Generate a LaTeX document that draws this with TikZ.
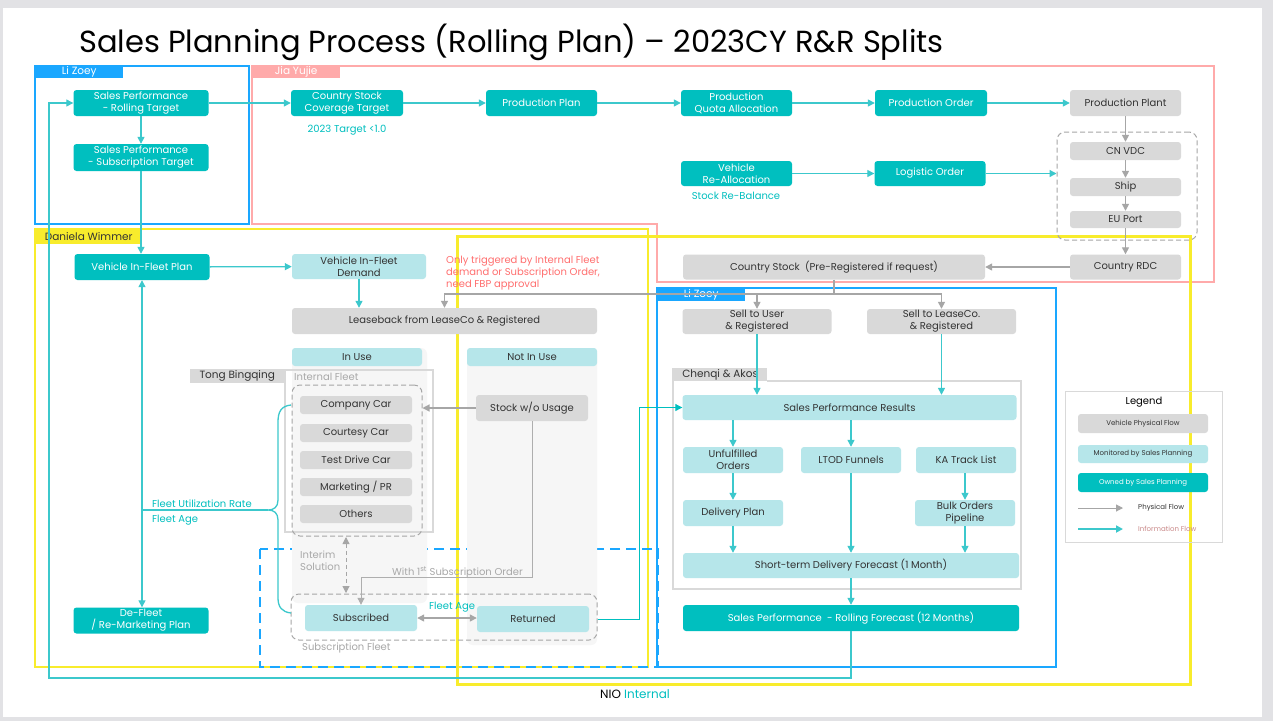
\documentclass[tikz,border=0pt]{standalone}
\usepackage{fontspec}
\setmainfont{Poppins}
\usetikzlibrary{arrows.meta,positioning,calc}
\definecolor{Own}{HTML}{00BFBF}
\definecolor{Mon}{HTML}{B6E6EA}
\definecolor{Phys}{HTML}{D9D9D9}
\definecolor{PhysLine}{HTML}{A6A6A6}
\definecolor{InfoLine}{HTML}{3CC8CC}
\definecolor{LaneBlue}{HTML}{1AA7FF}
\definecolor{LanePink}{HTML}{FFAAAA}
\definecolor{LaneYellow}{HTML}{F8EC2C}
\definecolor{Ink}{HTML}{333333}
\definecolor{Note}{HTML}{FF6F6F}
\definecolor{Faint}{HTML}{A8A8A8}
\definecolor{Panel}{HTML}{F6F6F6}
\definecolor{Slide}{HTML}{E2E2E5}
\definecolor{InfoText}{HTML}{C98888}

\tikzset{
  cell/.style 2 args={minimum width=#1pt, minimum height=#2pt, inner sep=0pt,
    rounded corners=3pt, align=center, font=\fontsize{10}{12}\selectfont},
  own/.style={fill=Own, text=white},
  mon/.style={fill=Mon, text=Ink},
  phy/.style={fill=Phys, text=Ink},
  info/.style={draw=InfoLine, line width=1.3pt, -{Triangle[length=7pt,width=7pt]}},
  phys/.style={draw=PhysLine, line width=1.3pt, -{Triangle[length=7pt,width=7pt]}},
  lane/.style={line width=2pt},
  lanetab/.style={anchor=north west, inner sep=0pt, font=\fontsize{10.5}{12}\selectfont},
  grp/.style={draw=PhysLine, line width=1pt, dash pattern=on 5pt off 3pt, rounded corners=8pt, inner sep=0pt},
  remark/.style={inner sep=0pt, font=\fontsize{10}{12}\selectfont},
}

\begin{document}
\begin{tikzpicture}[x=1pt,y=-1pt]
\useasboundingbox (0,0) rectangle (1273,721);
\fill[Slide] (0,0) rectangle (1273,721);
\fill[white] (3,8) rectangle (1262,717);

\node[anchor=base west, inner sep=0pt, font=\fontsize{30.5}{34}\selectfont] (title) at (79,52)
  {Sales Planning Process (Rolling Plan) – 2023CY R\&R Splits};

% swimlanes
\draw[lane, LaneBlue] (35,66) rectangle (249,224);
\draw[lane, LanePink] (252,66) -- (1214,66) -- (1214,282) -- (657,282) -- (657,224) -- (252,224) -- cycle;
\draw[lane, LaneYellow, line width=2.5pt] (35,229) rectangle (648,667);
\draw[lane, LaneYellow, line width=3pt] (457,236) rectangle (1190,684);
\draw[lane, LaneBlue] (657,288) rectangle (1056,667);
\draw[lane, LaneBlue, dash pattern=on 10pt off 6pt] (260,549) rectangle (658,667);

\node[lanetab, fill=LaneBlue, text=white, minimum width=88pt, minimum height=12pt] (tabZoeyA) at (35,66) {Li Zoey};
\node[lanetab, fill=LanePink, text=white, minimum width=88pt, minimum height=12pt] (tabJia) at (252,66) {Jia Yujie};
\node[lanetab, fill=LaneYellow, text=Ink, minimum width=107pt, minimum height=15pt] (tabDaniela) at (35,229) {Daniela Wimmer};
\node[lanetab, fill=LaneBlue, text=white, minimum width=88pt, minimum height=13pt] (tabZoeyB) at (657,288) {Li Zoey};

% fleet columns
\fill[Panel, rounded corners=6pt] (292,348) rectangle (427,603);
\fill[Panel, rounded corners=6pt] (467,348) rectangle (597,645);
\draw[Phys, line width=1.2pt] (285,370) rectangle (433,532);
\node[lanetab, fill=Phys, text=Ink, minimum width=94pt, minimum height=14pt] (tabTong) at (190,369) {Tong Bingqing};
\node[remark, anchor=west, text=Faint] (lblInternal) at (294,377) {Internal Fleet};
\node[grp, minimum width=130pt, minimum height=151pt] (fleetGrp) at (357,460.5) {};
\node[grp, minimum width=306pt, minimum height=46pt] (subFleet) at (444,617) {};
\node[remark, anchor=west, text=Faint] (lblSubFleet) at (302,648) {Subscription Fleet};

% sales performance area
\draw[Phys, line width=1.2pt] (673,368) -- (673,589) -- (1021,589) -- (1021,381) -- (767,381);
\node[lanetab, fill=Phys, text=Ink, minimum width=94pt, minimum height=13pt] (tabChenqi) at (673,368) {Chenqi \& Akos};

% top lane
\node[cell={135}{26}, own] (rollT) at (141,103) {Sales Performance\\- Rolling Target};
\node[cell={135}{27}, own] (subT) at (141,157.5) {Sales Performance\\- Subscription Target};
\node[cell={112}{26}, own] (covT) at (347,103) {Country Stock\\Coverage Target};
\node[remark, text=Own] (covNote) at (347,130) {2023 Target <1.0};
\node[cell={111}{26}, own] (prodPlan) at (541.5,103) {Production Plan};
\node[cell={111}{26}, own] (quota) at (736.5,103) {Production\\Quota Allocation};
\node[cell={112}{26}, own] (prodOrder) at (931,103) {Production Order};
\node[cell={111}{26}, phy] (plant) at (1125.5,103) {Production Plant};
\node[cell={111}{25}, own] (realloc) at (736.5,173.5) {Vehicle\\Re-Allocation};
\node[remark, text=Own] (reNote) at (736,196) {Stock Re-Balance};
\node[cell={111}{25}, own] (logOrder) at (930,173.5) {Logistic Order};
\node[grp, minimum width=140pt, minimum height=108pt] (shipGrp) at (1127,186) {};
\node[cell={111}{18}, phy] (cnvdc) at (1125.5,151) {CN VDC};
\node[cell={111}{18}, phy] (ship) at (1125.5,187) {Ship};
\node[cell={111}{17}, phy] (euport) at (1125.5,219.5) {EU Port};
\node[cell={111}{25}, phy] (rdc) at (1125.5,267) {Country RDC};
\node[cell={302}{25}, phy] (cstock) at (834,267) {Country Stock~ (Pre-Registered if request)};

% fleet lane
\node[cell={135}{26}, own] (fleetPlan) at (142,267) {Vehicle In-Fleet Plan};
\node[cell={134}{25}, mon] (fleetDem) at (359,266.5) {Vehicle In-Fleet\\Demand};
\node[remark, anchor=north west, align=left, text=Note] (fbpNote) at (446,256)
  {Only triggered by Internal Fleet\\demand or Subscription Order,\\need FBP approval};
\node[cell={305}{26}, phy] (leaseback) at (444.5,321) {Leaseback from LeaseCo \& Registered};
\node[cell={130}{18}, mon] (inUse) at (357,357) {In Use};
\node[cell={130}{18}, mon] (notInUse) at (532,357) {Not In Use};
\node[cell={112}{18}, phy] (carCompany) at (356,405) {Company Car};
\node[cell={112}{18}, phy] (carCourtesy) at (356,433) {Courtesy Car};
\node[cell={112}{18}, phy] (carTest) at (356,460) {Test Drive Car};
\node[cell={112}{18}, phy] (carMkt) at (356,487) {Marketing / PR};
\node[cell={112}{18}, phy] (carOther) at (356,514) {Others};
\node[cell={112}{26}, phy] (stockwo) at (532,408) {Stock w/o Usage};
\node[cell={112}{26}, mon] (subscribed) at (361,618) {Subscribed};
\node[cell={112}{26}, mon] (returned) at (533,619) {Returned};
\node[cell={135}{26}, own] (defleet) at (141,620.5) {De-Fleet\\/ Re-Marketing Plan};
\node[remark, anchor=north west, align=left, text=Faint] (interimTxt) at (300,551) {Interim\\Solution};
\node[remark, anchor=base west, text=Faint] (orderTxt) at (392,575) {With 1\textsuperscript{st} Subscription Order};
\node[remark, anchor=west, text=Own] (ageTxtA) at (429,607) {Fleet Age};
\node[remark, anchor=west, text=Own] (utilTxt) at (152,504) {Fleet Utilization Rate};
\node[remark, anchor=west, text=Own] (ageTxtB) at (152,520) {Fleet Age};

% sales lane
\node[cell={149}{25}, phy] (sellUser) at (757,321.5) {Sell to User\\\& Registered};
\node[cell={149}{25}, phy] (sellLease) at (941.5,321.5) {Sell to LeaseCo.\\\& Registered};
\node[cell={334}{25}, mon] (results) at (849.5,407.5) {Sales Performance Results};
\node[cell={100}{26}, mon] (unful) at (733,460) {Unfulfilled\\Orders};
\node[cell={100}{26}, mon] (ltod) at (851,460) {LTOD Funnels};
\node[cell={100}{26}, mon] (katrack) at (966,460) {KA Track List};
\node[cell={100}{26}, mon] (delivPlan) at (733,513) {Delivery Plan};
\node[cell={100}{26}, mon] (bulk) at (965,513) {Bulk Orders\\Pipeline};
\node[cell={336}{25}, mon] (shortT) at (851,565.5) {Short-term Delivery Forecast (1 Month)};
\node[cell={336}{26}, own] (rollF) at (851,618) {Sales Performance~ - Rolling Forecast (12 Months)};

% legend
\node[draw=Phys, line width=1pt, minimum width=157pt, minimum height=151pt, inner sep=0pt] (legend) at (1143.5,466.5) {};
\node[remark] (legendTitle) at (1144,402) {Legend};
\node[cell={130}{19}, phy, font=\fontsize{7}{8}\selectfont] (lgPhys) at (1143,423.5) {Vehicle Physical Flow};
\node[cell={130}{18}, mon, font=\fontsize{7}{8}\selectfont] (lgMon) at (1143,454) {Monitored by Sales Planning};
\node[cell={130}{19}, own, font=\fontsize{7}{8}\selectfont] (lgOwn) at (1143,482.5) {Owned by Sales Planning};
\coordinate (lgPa) at (1078,508);
\coordinate (lgPb) at (1123,508);
\coordinate (lgIa) at (1078,529);
\coordinate (lgIb) at (1123,529);
\draw[phys, line width=1pt] (lgPa) -- (lgPb);
\draw[info, line width=2pt] (lgIa) -- (lgIb);
\node[remark, anchor=west, text=Ink, font=\fontsize{7}{8}\selectfont] (lgPtxt) at (1138,508) {Physical Flow};
\node[remark, anchor=west, text=InfoText, font=\fontsize{7}{8}\selectfont] (lgItxt) at (1138,529) {Information Flow};

% information flow
\draw[info] (rollT) -- (subT);
\draw[info] (rollT) -- (covT);
\draw[info] (covT) -- (prodPlan);
\draw[info] (prodPlan) -- (quota);
\draw[info] (quota) -- (prodOrder);
\draw[info] (prodOrder) -- (plant);
\draw[info] (realloc) -- (logOrder);
\draw[info] (logOrder) -- (logOrder -| shipGrp.west);
\draw[info] (subT.south) -- (subT.south |- fleetPlan.north);
\draw[info] (fleetPlan) -- (fleetDem);
\draw[info] (fleetDem.south) -- (fleetDem.south |- leaseback.north);
\draw[info, {Triangle[length=7pt,width=7pt]}-{Triangle[length=7pt,width=7pt]}] (fleetPlan.south) -- (fleetPlan.south |- defleet.north);
\coordinate (braceTip) at (268,510);
\draw[InfoLine, line width=1.3pt] (fleetPlan.south |- braceTip) -- (braceTip);
\draw[InfoLine, line width=1.3pt] (291,405) .. controls (281,406) and (278,412) .. (278,422)
  -- (278,500) .. controls (278,507) and (274,510) .. (braceTip)
  .. controls (274,510) and (278,513) .. (278,520)
  -- (278,598) .. controls (278,607) and (282,612) .. (291,613);
\draw[info] (sellUser.south) -- (sellUser.south |- results.north);
\draw[info] (sellLease.south) -- (sellLease.south |- results.north);
\draw[info] (unful.north |- results.south) -- (unful.north);
\draw[info] (ltod.north |- results.south) -- (ltod.north);
\draw[info] (katrack.south -| bulk.north) -- (bulk.north);
\draw[info] (unful) -- (delivPlan);
\draw[info] (delivPlan.south) -- (delivPlan.south |- shortT.north);
\draw[info] (ltod.south) -- (ltod.south |- shortT.north);
\draw[info] (bulk.south) -- (bulk.south |- shortT.north);
\draw[info] (shortT) -- (rollF);
\coordinate (retUp) at (639,407.5);
\draw[info, draw=Own, line width=1pt] (returned.east -| subFleet.east) -| (retUp) -- (results.west);
\coordinate (fbCorner) at (49,678);
\draw[info] (rollF.south) |- (fbCorner) |- (rollT.west);

% physical flow
\draw[phys] (plant) -- (cnvdc);
\draw[phys] (cnvdc) -- (ship);
\draw[phys] (ship) -- (euport);
\draw[phys] (euport) -- (rdc);
\draw[phys] (rdc) -- (cstock);
\coordinate (split) at (834,294);
\draw[phys] (cstock.south) -- (split) -| (leaseback.north);
\draw[phys] (split) -| (sellUser.north);
\draw[phys] (split) -| (sellLease.north);
\draw[phys] (stockwo.west) -- (stockwo.west -| fleetGrp.east);
\coordinate (orderTurn) at (532,577);
\draw[phys, draw=Phys!80!black, line width=1pt] (stockwo.south) -- (orderTurn) -| (subscribed.north);
\coordinate (interimTop) at (346,537);
\coordinate (interimBot) at (346,593);
\draw[phys, line width=1pt, dash pattern=on 4pt off 3pt, {Triangle[length=7pt,width=7pt]}-{Triangle[length=7pt,width=7pt]}] (interimTop) -- (interimBot);
\draw[phys, {Triangle[length=7pt,width=7pt]}-{Triangle[length=7pt,width=7pt]}] (subscribed) -- (returned.west |- subscribed);

% footer
\node[inner sep=0pt, font=\fontsize{12}{14}\selectfont] (footer) at (635,694) {NIO \textcolor{Own}{Internal}};
\end{tikzpicture}
\end{document}
